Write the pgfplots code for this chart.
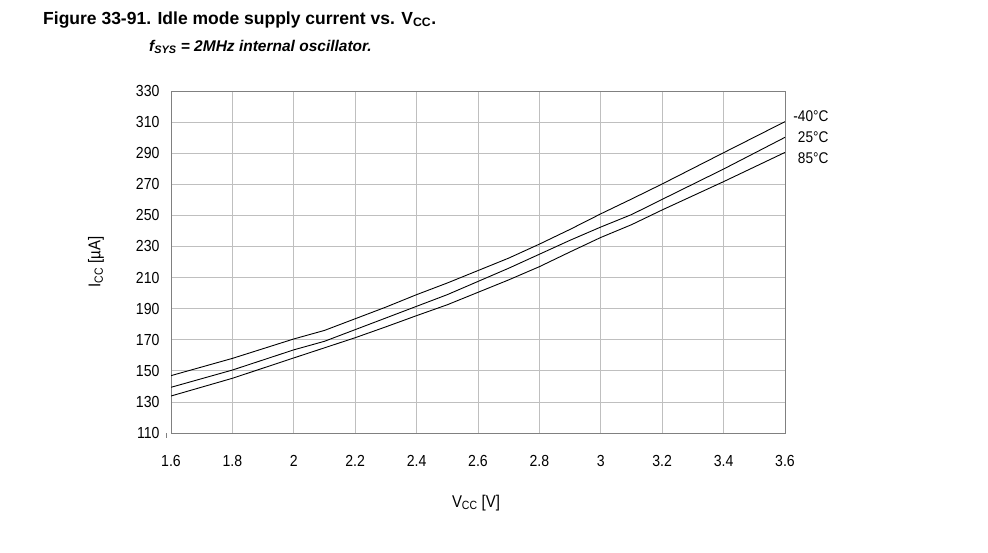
\documentclass[border=0pt]{standalone}
\usepackage{pgfplots}
\pgfplotsset{compat=1.18}
\usepackage{fontspec}
\setmainfont{Liberation Sans}
\newcommand{\nar}[1]{\scalebox{0.88}[1]{#1}}
\begin{document}
\begin{tikzpicture}[x=1pt,y=1pt]
\path[use as bounding box] (0,0) rectangle (988,-552);
\begin{axis}[
  at={(171pt,-433pt)}, anchor=south west,
  scale only axis, width=614pt, height=342pt,
  xmin=1.6, xmax=3.6, ymin=110, ymax=330,
  xtick={1.6,1.8,2,2.2,2.4,2.6,2.8,3,3.2,3.4,3.6},
  ytick={110,130,150,170,190,210,230,250,270,290,310,330},
  grid=major, grid style={color=black!25, line width=0.8pt},
  axis line style={color=black!50, line width=0.9pt},
  major tick length=0pt,
  /pgf/number format/assume math mode=true,
  ticklabel style={font=\fontsize{16}{18}\selectfont},
  xticklabel={\nar{\pgfmathprintnumber{\tick}}},
  yticklabel={\nar{\pgfmathprintnumber{\tick}}},
  xticklabel style={yshift=-19pt},
  yticklabel style={xshift=-8pt},
]
\addplot[black, line width=0.9pt] coordinates {
(1.6,146.9) (1.8,158) (2.0,170.5) (2.1,176) (2.2,183.5) (2.3,191) (2.4,199) (2.5,206.5) (2.6,214.5) (2.7,222.5) (2.8,231.5) (2.9,241) (3.0,251) (3.1,260.5) (3.2,270.2) (3.4,290.3) (3.6,310.3)};
\addplot[black, line width=0.9pt] coordinates {
(1.6,139.4) (1.8,150.5) (2.0,163.5) (2.1,169) (2.2,176.5) (2.3,184) (2.4,191.5) (2.5,199) (2.6,207.5) (2.7,216) (2.8,225) (2.9,234) (3.0,242.5) (3.1,250.5) (3.2,260.3) (3.4,279.8) (3.6,300.2)};
\addplot[black, line width=0.9pt] coordinates {
(1.6,133.8) (1.8,145.2) (2.0,158.3) (2.2,171.3) (2.3,178.3) (2.4,185.5) (2.5,192.5) (2.6,200.5) (2.7,208.5) (2.8,217) (2.9,226.5) (3.0,235.8) (3.1,244) (3.2,253.5) (3.4,271.7) (3.6,290.5)};
\end{axis}
\draw[black!50, line width=0.9pt] (166,-433) -- (166,-438);
\node[anchor=base west, inner sep=0pt, font=\bfseries\fontsize{17.5}{20}\selectfont] at (43,-24) {Figure 33-91. Idle mode supply current vs. V\textsubscript{CC}.};
\node[anchor=base west, inner sep=0pt, font=\bfseries\itshape\fontsize{15.5}{18}\selectfont] at (149,-51) {f\textsubscript{SYS} = 2MHz internal oscillator.};
\node[rotate=90, font=\fontsize{17}{19}\selectfont] at (96,-262) {\nar{I\textsubscript{CC} [µA]}};
\node[font=\fontsize{17}{19}\selectfont] at (476,-503) {\nar{V\textsubscript{CC} [V]}};
\node[anchor=east, font=\fontsize{15.5}{18}\selectfont] at (832,-116) {\nar{-40°C}};
\node[anchor=east, font=\fontsize{15.5}{18}\selectfont] at (832,-137) {\nar{25°C}};
\node[anchor=east, font=\fontsize{15.5}{18}\selectfont] at (832,-158) {\nar{85°C}};
\end{tikzpicture}
\end{document}
